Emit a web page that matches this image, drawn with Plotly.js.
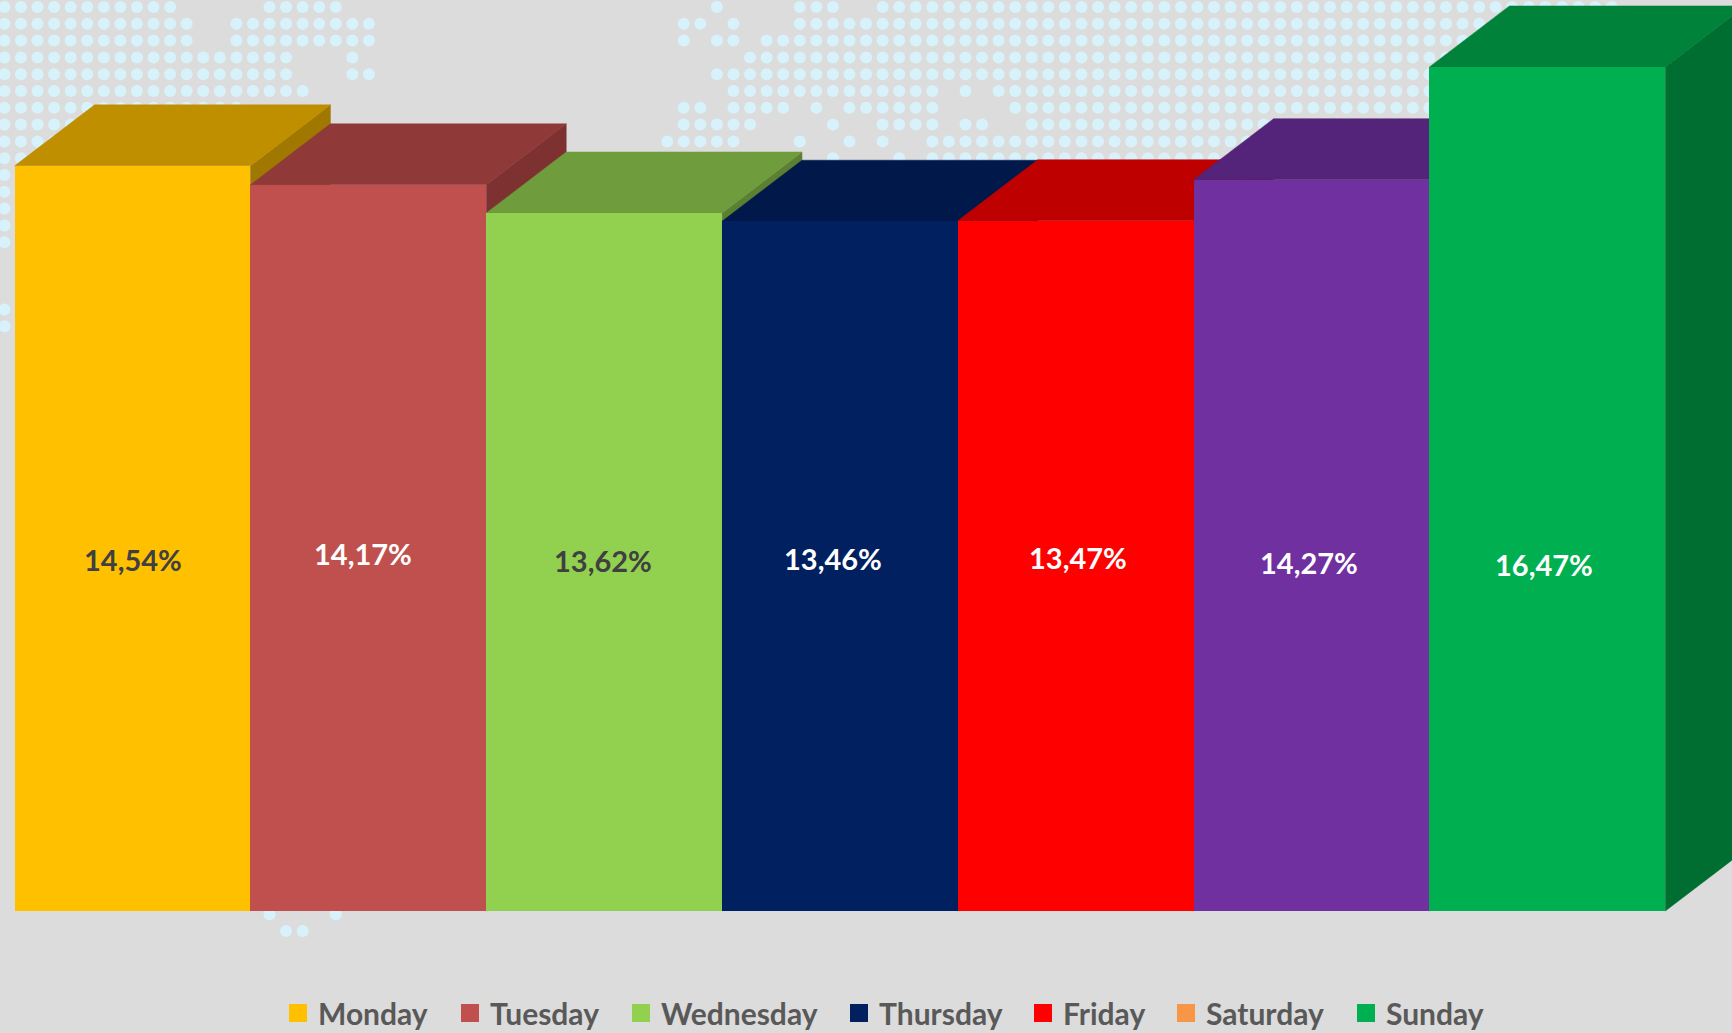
<!DOCTYPE html>
<html>
<head>
<meta charset="utf-8">
<script src="https://cdn.plot.ly/plotly-3.0.1.min.js"></script>
<style>html,body{margin:0;padding:0;background:#dcdcdc;overflow:hidden}#chart{width:1732px;height:1033px}</style>
</head>
<body>
<div id="chart"></div>
<script>
const days = ['Monday','Tuesday','Wednesday','Thursday','Friday','Saturday','Sunday'];
const shares = [14.54,14.17,13.62,13.46,13.47,14.27,16.47];
const labels = ['14,54%','14,17%','13,62%','13,46%','13,47%','14,27%','16,47%'];
const frontColors = ['#FFC000','#C0504D','#92D050','#002060','#FF0000','#7030A0','#00B050'];
const topColors = ['#BF8F00','#8F3939','#6F9C3D','#00184A','#BF0000','#54237A','#00823A'];
const sideColors = ['#A07800','#7D3131','#5C8032','#00153D','#A00000','#47206A','#006E30'];
const legendColors = ['#FFC000','#C0504D','#92D050','#002060','#FF0000','#F79646','#00B050'];
const labelColors = ['#404040','#FFFFFF','#404040','#FFFFFF','#FFFFFF','#FFFFFF','#FFFFFF'];
const labelShiftX = [0,-5,-1.5,-6.5,2,-3,-3.5];
const labelShiftY = [-21.5,-5.6,2,8,8,-17,-75.6];
const legendLeft = [289,461,632,850,1034,1177,1357];

// background world-map dots: [row, first column, last column]
const mapRuns = [
[0,0,10],[0,16,20],[0,43,43],[0,48,50],[0,53,97],
[1,0,11],[1,14,22],[1,41,42],[1,44,44],[1,48,92],
[2,0,11],[2,14,22],[2,41,41],[2,43,44],[2,46,92],
[3,0,17],[3,21,21],[3,45,92],
[4,0,17],[4,21,22],[4,43,92],
[5,0,18],[5,44,56],[5,58,58],[5,60,92],
[6,0,14],[6,41,42],[6,44,47],[6,49,49],[6,51,56],[6,61,92],
[7,0,13],[7,41,45],[7,50,50],[7,53,56],[7,58,59],[7,62,92],
[8,0,8],[8,40,44],[8,48,48],[8,51,51],[8,53,53],[8,56,92],
[9,0,4],[9,50,50],[9,54,54],[9,56,92],
[10,0,0],[11,0,0],[12,0,0],[13,0,0],[14,0,0],[18,0,0],[19,0,0],
[54,16,16],[54,20,20],[55,17,18]
];
const mapCols = [], mapRows = [];
mapRuns.forEach(([r,a,b]) => { for (let c = a; c <= b; c++) { mapCols.push(c); mapRows.push(r); } });

const depthX = 0.339, depthY = 1.19;
const xRange = [-0.5623, 6.7829], yRange = [-2.380, 17.776];

const traces = [{
  type:'scatter', mode:'markers', x:mapCols, y:mapRows, xaxis:'x', yaxis:'y',
  marker:{symbol:'circle', size:12, color:'#D7F2FB'}, hoverinfo:'skip', showlegend:false
}];

days.forEach((d,i) => {
  const L = i-0.5, R = i+0.5, v = shares[i];
  traces.push({type:'scatter', mode:'lines', fill:'toself', fillcolor:sideColors[i],
    x:[R,R+depthX,R+depthX,R,R], y:[v,v+depthY,depthY,0,v], xaxis:'x2', yaxis:'y2',
    line:{width:0.5,color:sideColors[i]}, hoverinfo:'skip', showlegend:false});
  traces.push({type:'scatter', mode:'lines', fill:'toself', fillcolor:topColors[i],
    x:[L,L+depthX,R+depthX,R,L], y:[v,v+depthY,v+depthY,v,v], xaxis:'x2', yaxis:'y2',
    line:{width:0.5,color:topColors[i]}, hoverinfo:'skip', showlegend:false});
});

traces.push({type:'bar', x:days, y:shares, width:1, xaxis:'x3', yaxis:'y3',
  marker:{color:frontColors, line:{width:0}}, showlegend:false, hovertemplate:'%{x}: %{y}%<extra></extra>'});

days.forEach((d,i) => {
  traces.push({type:'scatter', mode:'markers', x:[null], y:[null], name:d, xaxis:'x3', yaxis:'y3',
    legend: i === 0 ? 'legend' : 'legend'+(i+1), showlegend:true,
    marker:{symbol:'square', size:16, color:legendColors[i], line:{width:2,color:legendColors[i]}}});
});

const hidden = {visible:false, fixedrange:true};
const layout = {
  width:1732, height:1033,
  margin:{l:0,r:0,t:0,b:0,pad:0,autoexpand:false},
  paper_bgcolor:'#DCDCDC', plot_bgcolor:'rgba(0,0,0,0)',
  font:{family:'Lato, sans-serif'},
  showlegend:true,
  barmode:'overlay', bargap:0,
  xaxis:{...hidden, range:[-0.2655,104.26], domain:[0,1]},
  yaxis:{...hidden, range:[61.07,-0.4167], domain:[0,1]},
  xaxis2:{...hidden, range:xRange, overlaying:'x'},
  yaxis2:{...hidden, range:yRange, overlaying:'y'},
  xaxis3:{...hidden, type:'category', categoryarray:days, range:xRange, overlaying:'x'},
  yaxis3:{...hidden, range:yRange, overlaying:'y'},
  annotations: days.map((d,i) => ({
    xref:'x3', yref:'y3', x:d, y:shares[i]/2, xshift:labelShiftX[i], yshift:labelShiftY[i],
    text:labels[i], showarrow:false,
    font:{family:'Lato, sans-serif', size:29, weight:700, color:labelColors[i]}
  }))
};
days.forEach((d,i) => {
  layout[i === 0 ? 'legend' : 'legend'+(i+1)] = {
    x:(legendLeft[i]-11)/1732, xanchor:'left', y:1-1013/1033, yanchor:'middle',
    orientation:'h', bgcolor:'rgba(0,0,0,0)', borderwidth:0, itemclick:false, itemdoubleclick:false,
    font:{family:'Lato, sans-serif', size:30, weight:700, color:'#595959'}
  };
});
Plotly.newPlot('chart', traces, layout, {displayModeBar:false, responsive:false});
</script>
</body>
</html>
